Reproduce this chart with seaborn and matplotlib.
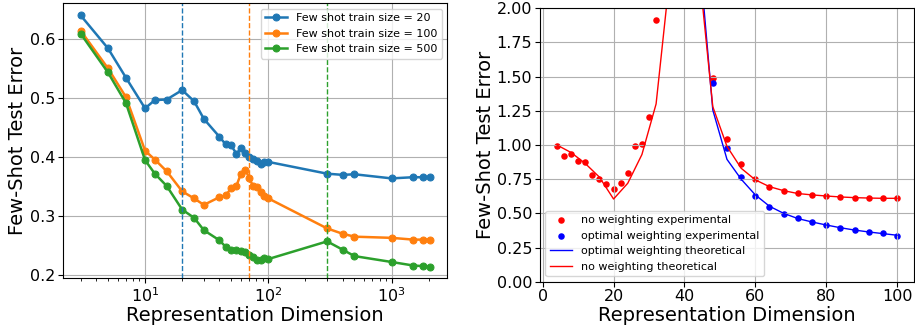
import matplotlib
matplotlib.use('Agg')
import matplotlib.pyplot as plt
import numpy as np
import pandas as pd
import seaborn as sns

# left panel: few-shot error vs representation dimension (log x)
dims = [3, 5, 7, 10, 12, 15, 20, 25, 30, 40, 45, 50, 55, 60, 65, 70, 75, 81, 87, 93, 100,
        300, 400, 500, 1000, 1500, 1800, 2048]
err_20 = [0.641, 0.585, 0.535, 0.483, 0.497, 0.498, 0.514, 0.495, 0.465, 0.435, 0.422, 0.420,
          0.406, 0.415, 0.407, 0.400, 0.397, 0.393, 0.389, 0.391, 0.392,
          0.372, 0.370, 0.371, 0.364, 0.366, 0.366, 0.366]
err_100 = [0.615, 0.551, 0.502, 0.411, 0.396, 0.376, 0.342, 0.330, 0.319, 0.332, 0.335, 0.347,
           0.351, 0.372, 0.379, 0.365, 0.351, 0.349, 0.341, 0.334, 0.330,
           0.279, 0.270, 0.265, 0.263, 0.260, 0.260, 0.260]
err_500 = [0.610, 0.544, 0.492, 0.395, 0.372, 0.351, 0.311, 0.297, 0.276, 0.259, 0.248, 0.243,
           0.243, 0.241, 0.239, 0.234, 0.230, 0.226, 0.225, 0.228, 0.227,
           0.257, 0.243, 0.232, 0.222, 0.216, 0.215, 0.214]
peak_dims = [20, 70, 300]
train_sizes = [20, 100, 500]

# right panel: weighting experiment
exp_red_x = [4, 6, 8, 10, 12, 14, 16, 18, 20, 22, 24, 26, 28, 30, 32,
             48, 52, 56, 60, 64, 68, 72, 76, 80, 84, 88, 92, 96, 100]
exp_red_y = [0.995, 0.922, 0.932, 0.880, 0.876, 0.780, 0.754, 0.715, 0.678, 0.724, 0.793,
             0.995, 1.005, 1.207, 1.912,
             1.490, 1.041, 0.859, 0.749, 0.695, 0.663, 0.646, 0.637, 0.627, 0.620, 0.615,
             0.612, 0.615, 0.610]
exp_blue_x = [48, 52, 56, 60, 64, 68, 72, 76, 80, 84, 88, 92, 96, 100]
exp_blue_y = [1.454, 0.978, 0.763, 0.629, 0.549, 0.498, 0.463, 0.439, 0.417, 0.393, 0.378,
              0.363, 0.354, 0.337]
theo_red_x = [4, 8, 12, 16, 20, 24, 28, 32, 36, 44, 48, 52, 56, 60, 64, 68, 72, 76, 80,
              84, 88, 92, 96, 100]
theo_red_y = [1.00, 0.945, 0.865, 0.765, 0.605, 0.72, 0.93, 1.30, 2.27, 2.31, 1.28, 0.99,
              0.83, 0.745, 0.695, 0.666, 0.645, 0.635, 0.627, 0.62, 0.615, 0.612, 0.61, 0.61]
theo_blue_x = [44, 48, 52, 56, 60, 64, 68, 72, 76, 80, 84, 88, 92, 96, 100]
theo_blue_y = [2.45, 1.256, 0.895, 0.75, 0.635, 0.552, 0.50, 0.462, 0.437, 0.415, 0.395,
               0.378, 0.364, 0.352, 0.34]

fig = plt.figure(figsize=(9.15, 3.28), dpi=100)
ax1 = fig.add_axes([0.069, 0.151, 0.420, 0.840])
ax2 = fig.add_axes([0.590, 0.141, 0.409, 0.834])

colors = ['C0', 'C1', 'C2']
for errs, n, c in zip([err_20, err_100, err_500], train_sizes, colors):
    sns.lineplot(x=dims, y=errs, ax=ax1, color=c, marker='o', markersize=5,
                 markeredgecolor=c, linewidth=1.8, label='Few shot train size = %d' % n)
for d, c in zip(peak_dims, colors):
    ax1.axvline(d, color=c, ls='--', lw=1)
ax1.set_xscale('log')
ax1.set_ylim(0.194, 0.662)
ax1.set_yticks([0.2, 0.3, 0.4, 0.5, 0.6])
ax1.grid(True)
ax1.set_xlabel('Representation Dimension', fontsize=14, labelpad=1)
ax1.set_ylabel('Few-Shot Test Error', fontsize=14, labelpad=2)
ax1.tick_params(labelsize=11.5, pad=2)
ax1.legend(loc='upper right', fontsize=8)

sns.scatterplot(x=exp_red_x, y=exp_red_y, ax=ax2, color='red', s=22, linewidth=0,
                label='no weighting experimental')
sns.scatterplot(x=exp_blue_x, y=exp_blue_y, ax=ax2, color='blue', s=22, linewidth=0,
                label='optimal weighting experimental')
sns.lineplot(x=theo_blue_x, y=theo_blue_y, ax=ax2, color='blue', linewidth=1,
             label='optimal weighting theoretical')
sns.lineplot(x=theo_red_x, y=theo_red_y, ax=ax2, color='red', linewidth=1,
             label='no weighting theoretical')
ax2.set_xlim(-0.8, 104.8)
ax2.set_ylim(0, 2)
ax2.set_yticks(np.arange(0, 2.01, 0.25))
ax2.set_yticklabels(['%.2f' % v for v in np.arange(0, 2.01, 0.25)])
ax2.set_xticks([0, 20, 40, 60, 80, 100])
ax2.grid(True)
ax2.set_xlabel('Representation Dimension', fontsize=14, labelpad=1)
ax2.set_ylabel('Few-Shot Test Error', fontsize=14, labelpad=1)
ax2.tick_params(labelsize=11.5, pad=2)
handles, labels = ax2.get_legend_handles_labels()
order = ['no weighting experimental', 'optimal weighting experimental',
         'optimal weighting theoretical', 'no weighting theoretical']
hmap = dict(zip(labels, handles))
ax2.legend([hmap[k] for k in order], order, loc='lower left', fontsize=8)

fig.savefig('out.png', dpi=100)
